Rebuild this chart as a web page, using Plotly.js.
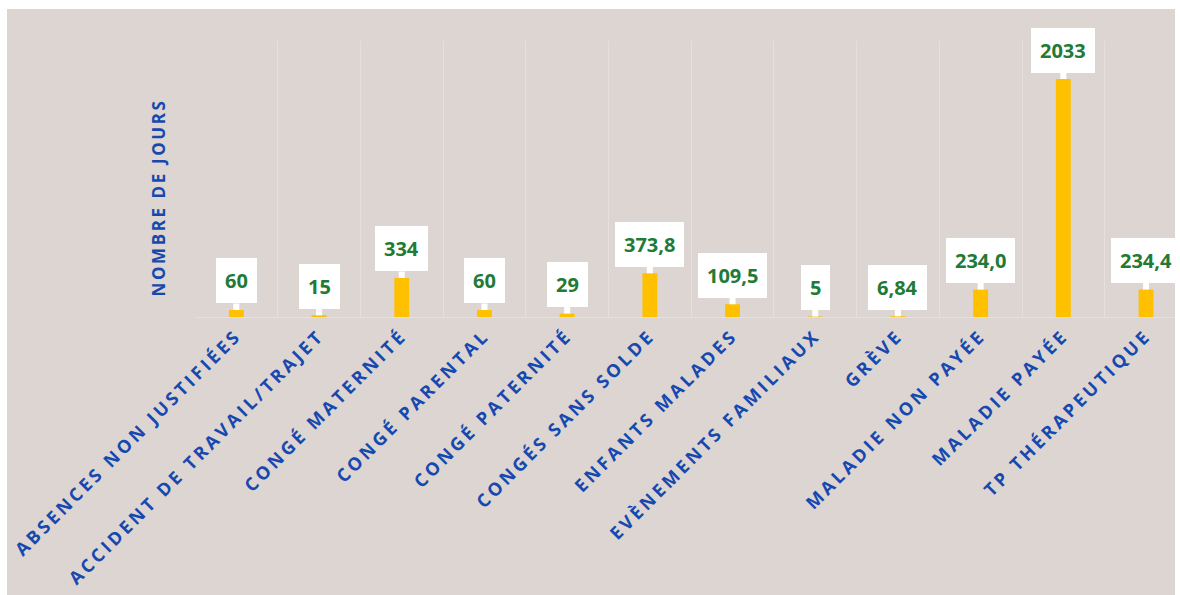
<!DOCTYPE html>
<html>
<head>
<meta charset="utf-8">
<script src="https://cdn.plot.ly/plotly-3.0.1.min.js"></script>
<style>
  html, body { margin: 0; padding: 0; background: #ffffff; }
  #chart { width: 1180px; height: 595px; }
  .xtick text { letter-spacing: 3.3px; }
  .annotation[data-index="12"] text { letter-spacing: 2.6px; }
</style>
</head>
<body>
<div id="chart"></div>
<script>
const categories = [
  "ABSENCES NON JUSTIFIÉES",
  "ACCIDENT DE TRAVAIL/TRAJET",
  "CONGÉ MATERNITÉ",
  "CONGÉ PARENTAL",
  "CONGÉ PATERNITÉ",
  "CONGÉS SANS SOLDE",
  "ENFANTS MALADES",
  "EVÈNEMENTS FAMILIAUX",
  "GRÈVE",
  "MALADIE NON PAYÉE",
  "MALADIE PAYÉE",
  "TP THÉRAPEUTIQUE"
];
const values = [60, 15, 334, 60, 29, 373.8, 109.5, 5, 6.84, 234.0, 2033, 234.4];
const valueLabels = ["60", "15", "334", "60", "29", "373,8", "109,5", "5", "6,84", "234,0", "2033", "234,4"];
const yTitle = "NOMBRE DE JOURS";

const BLUE = "#1549b0";
const GREEN = "#217a35";
const BG = "#ddd5d1";
const GRID = "#e5e0de";

const trace = {
  type: "bar",
  x: categories,
  y: values,
  marker: { color: "#FFC000" },
  width: 0.18,
  hoverinfo: "x+y"
};

const annotations = categories.map((c, i) => ({
  x: c,
  y: values[i],
  xref: "x",
  yref: "y",
  text: valueLabels[i],
  showarrow: true,
  arrowhead: 0,
  arrowwidth: 6,
  arrowcolor: "#ffffff",
  standoff: 0,
  ax: 0,
  ay: -29,
  bgcolor: "#ffffff",
  bordercolor: "#ffffff",
  borderwidth: 0,
  borderpad: 9,
  font: { family: "Open Sans", size: 20, color: GREEN, weight: "bold" }
}));

annotations.push({
  xref: "paper",
  yref: "paper",
  x: (158 - 195) / 980,
  y: 0.431,
  xanchor: "center",
  yanchor: "middle",
  text: yTitle,
  textangle: -90,
  showarrow: false,
  font: { family: "Open Sans", size: 17, color: BLUE, weight: "bold" }
});

const layout = {
  width: 1180,
  height: 595,
  margin: { l: 195, r: 5, t: 41, b: 278, pad: 0 },
  paper_bgcolor: "#ffffff",
  plot_bgcolor: "rgba(0,0,0,0)",
  showlegend: false,
  xaxis: {
    type: "category",
    range: [-0.5, 11.35],
    tickson: "boundaries",
    showgrid: true,
    gridcolor: GRID,
    gridwidth: 1,
    showline: true,
    linecolor: GRID,
    linewidth: 1,
    ticks: "",
    ticklen: 0,
    tickangle: -45,
    automargin: false,
    tickfont: { family: "Open Sans", size: 18, color: BLUE, weight: "bold" }
  },
  yaxis: {
    range: [0, 2358],
    showgrid: false,
    zeroline: false,
    showticklabels: false,
    showline: false,
    ticks: "",
    automargin: false
  },
  shapes: [{
    type: "rect",
    xref: "paper",
    yref: "paper",
    x0: (7 - 195) / 980,
    x1: 1,
    y0: -278 / 276,
    y1: (317 - 9) / 276,
    fillcolor: BG,
    line: { width: 0 },
    layer: "below"
  }],
  annotations: annotations
};

Plotly.newPlot("chart", [trace], layout, { displayModeBar: false, staticPlot: true });
</script>
</body>
</html>
